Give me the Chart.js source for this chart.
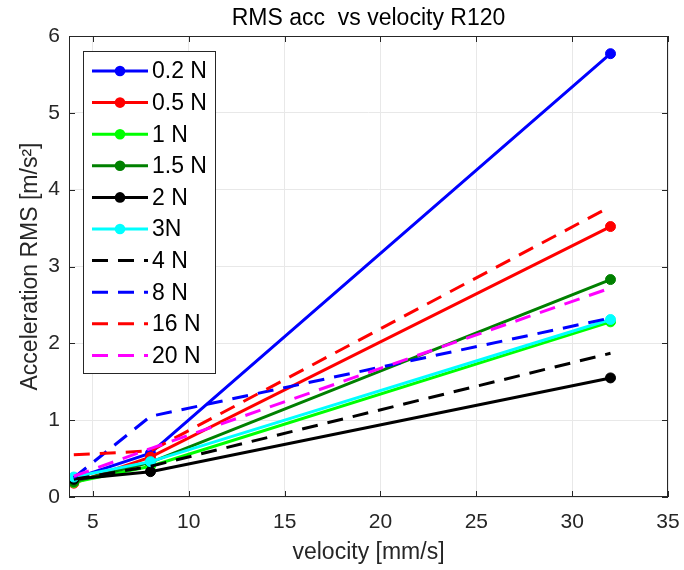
<!DOCTYPE html>
<html>
<head>
<meta charset="utf-8">
<script src="https://cdn.jsdelivr.net/npm/chart.js@4"></script>
<style>
  html, body { margin: 0; padding: 0; background: #fff; }
  canvas { display: block; }
</style>
</head>
<body>
<canvas id="rmsChart" width="684" height="570"></canvas>
<script>
// velocity [mm/s]
const velocity = [4, 8, 32];

// acceleration RMS [m/s^2] per load
const rms_0_2N = [0.24, 0.57, 5.77];
const rms_0_5N = [0.18, 0.52, 3.52];
const rms_1N   = [0.19, 0.40, 2.28];
const rms_1_5N = [0.20, 0.45, 2.83];
const rms_2N   = [0.23, 0.33, 1.55];
const rms_3N   = [0.26, 0.46, 2.31];
const rms_4N   = [0.23, 0.40, 1.87];
const rms_8N   = [0.25, 1.05, 2.33];
const rms_16N  = [0.55, 0.60, 3.78];
const rms_20N  = [0.27, 0.63, 2.72];

const seriesLabels = ['0.2 N', '0.5 N', '1 N', '1.5 N', '2 N', '3N', '4 N', '8 N', '16 N', '20 N'];
const seriesValues = [rms_0_2N, rms_0_5N, rms_1N, rms_1_5N, rms_2N, rms_3N, rms_4N, rms_8N, rms_16N, rms_20N];

const xTicks = [5, 10, 15, 20, 25, 30, 35];
const yTicks = [0, 1, 2, 3, 4, 5, 6];

// line styles (matlab-ish)
const colors = ['#0000ff', '#ff0000', '#00ff00', '#008000', '#000000', '#00ffff',
                '#000000', '#0000ff', '#ff0000', '#ff00ff'];
const dashed = [false, false, false, false, false, false, true, true, true, true];
const DASH = [16, 10];
const TEXT = '#262626';
const FONT = '"Liberation Sans", Arial, sans-serif';

const datasets = seriesValues.map((vals, i) => ({
  label: seriesLabels[i],
  data: vals.map((v, j) => ({ x: velocity[j], y: v })),
  borderColor: colors[i],
  backgroundColor: colors[i],
  borderWidth: 3,
  borderDash: dashed[i] ? DASH : [],
  pointRadius: dashed[i] ? 0 : 5,
  pointBorderWidth: 1,
  pointBackgroundColor: colors[i],
  tension: 0,
  order: seriesValues.length - i   // later series on top, like matlab
}));

// box, inward ticks, title and the legend inside the axes
const matlabBits = {
  id: 'matlabBits',
  afterDraw(chart) {
    const { ctx, chartArea: a, scales } = chart;
    ctx.save();
    // axes box + inner ticks
    ctx.strokeStyle = TEXT;
    ctx.lineWidth = 1;
    ctx.beginPath();
    xTicks.forEach(v => {
      const px = Math.round(scales.x.getPixelForValue(v)) + 0.5;
      ctx.moveTo(px, a.bottom); ctx.lineTo(px, a.bottom - 6);
      ctx.moveTo(px, a.top); ctx.lineTo(px, a.top + 6);
    });
    yTicks.forEach(v => {
      const py = Math.round(scales.y.getPixelForValue(v)) + 0.5;
      ctx.moveTo(a.left, py); ctx.lineTo(a.left + 6, py);
      ctx.moveTo(a.right, py); ctx.lineTo(a.right - 6, py);
    });
    ctx.stroke();
    ctx.strokeRect(Math.round(a.left) + 0.5, Math.round(a.top) + 0.5,
                   Math.round(a.right - a.left) - 1, Math.round(a.bottom - a.top) - 1);

    // title
    ctx.fillStyle = '#000';
    ctx.font = '23px ' + FONT;
    ctx.textAlign = 'center';
    ctx.textBaseline = 'middle';
    ctx.fillText('RMS acc  vs velocity R120', (a.left + a.right) / 2, 19);

    // legend
    const lx = 83, ly = 51, lw = 132, lh = 322, step = 31.6;
    ctx.fillStyle = '#fff';
    ctx.fillRect(lx, ly, lw, lh);
    ctx.strokeStyle = TEXT;
    ctx.strokeRect(lx + 0.5, ly + 0.5, lw, lh);
    ctx.font = '23px ' + FONT;
    ctx.textAlign = 'left';
    chart.data.datasets.forEach((ds, i) => {
      const cy = ly + 20 + i * step;
      ctx.strokeStyle = ds.borderColor;
      ctx.lineWidth = 3;
      ctx.setLineDash(ds.borderDash);
      ctx.beginPath();
      ctx.moveTo(92, cy); ctx.lineTo(148, cy);
      ctx.stroke();
      ctx.setLineDash([]);
      if (ds.pointRadius > 0) {
        ctx.fillStyle = ds.borderColor;
        ctx.beginPath();
        ctx.arc(120, cy, 5.3, 0, Math.PI * 2);
        ctx.fill();
      }
      ctx.fillStyle = '#000';
      ctx.fillText(ds.label, 152, cy + 1);
    });
    ctx.restore();
  }
};

new Chart(document.getElementById('rmsChart'), {
  type: 'line',
  data: { datasets },
  plugins: [matlabBits],
  options: {
    responsive: false,
    animation: false,
    layout: { padding: { top: 36, right: 16, left: 0, bottom: 0 } },
    plugins: { legend: { display: false }, title: { display: false }, tooltip: { enabled: false } },
    scales: {
      x: {
        type: 'linear', min: 3.75, max: 35,
        afterBuildTicks: s => { s.ticks = xTicks.map(v => ({ value: v })); },
        afterFit: s => { s.height = 73; s.paddingLeft = 0; s.paddingRight = 0; },
        grid: { color: '#e8e8e8', drawTicks: false },
        border: { display: false },
        ticks: { padding: 13, color: TEXT, font: { size: 21, family: FONT } },
        title: { display: true, text: 'velocity [mm/s]', color: TEXT,
                 font: { size: 23, family: FONT }, padding: { top: 0, bottom: 4 } }
      },
      y: {
        min: 0, max: 6,
        afterBuildTicks: s => { s.ticks = yTicks.map(v => ({ value: v })); },
        afterFit: s => { s.width = 69; s.paddingTop = 0; s.paddingBottom = 0; },
        grid: { color: '#e8e8e8', drawTicks: false },
        border: { display: false },
        ticks: { padding: 9, color: TEXT, font: { size: 21, family: FONT } },
        title: { display: true, text: 'Acceleration RMS [m/s²]', color: TEXT,
                 font: { size: 23, family: FONT }, padding: { top: 17, bottom: 0 } }
      }
    }
  }
});
</script>
</body>
</html>
